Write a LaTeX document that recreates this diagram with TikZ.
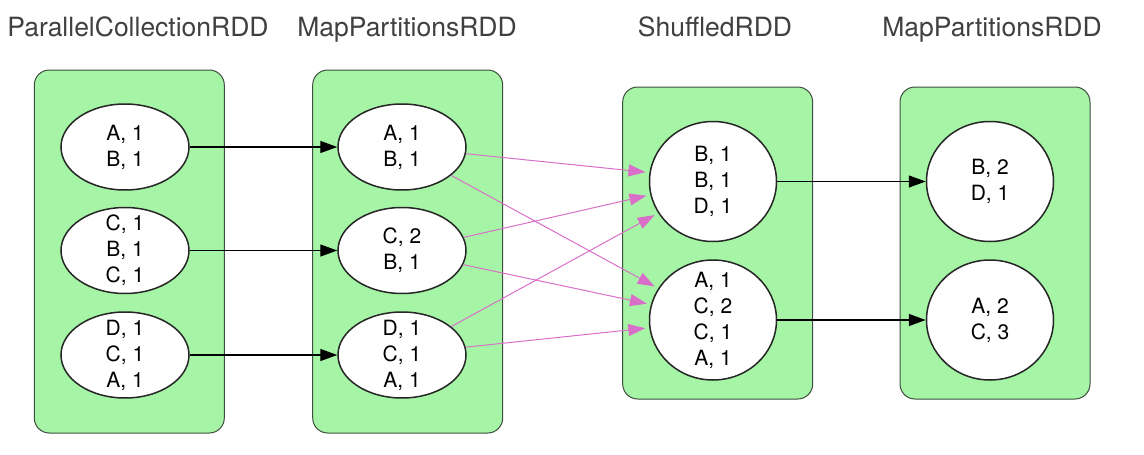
\documentclass[tikz,border=0pt]{standalone}
\usepackage{fontspec}
\setmainfont{TeX Gyre Heros}
\usetikzlibrary{shapes.geometric,arrows.meta,positioning}
\definecolor{rddgreen}{HTML}{A6F5A6}
\definecolor{rddedge}{HTML}{3E4E3E}
\definecolor{shufflepink}{HTML}{D96FC8}
\definecolor{titlegray}{HTML}{404040}

\begin{document}
\begin{tikzpicture}[
    x=1pt, y=-1pt,
    >={Triangle[length=17pt,width=12pt]},
    rdd/.style={
        rectangle, draw=rddedge, fill=rddgreen, line width=1pt,
        rounded corners=15pt, minimum width=190pt, inner sep=0pt
    },
    part/.style={
        ellipse, draw=black!85, fill=white, line width=1.5pt,
        minimum width=128pt, minimum height=86pt, inner sep=0pt,
        label={[parttext]center:#1}
    },
    bucket/.style={part={#1}, minimum width=127pt, minimum height=120pt},
    parttext/.style={align=center, font=\fontsize{21}{26}\selectfont, text=black},
    title/.style={anchor=base, font=\fontsize{26.5}{30}\selectfont, text=titlegray},
    arrow/.style={->, line width=1.3pt},
    shuffle/.style={->, draw=shufflepink, line width=1pt, shorten >=4pt},
]
  \useasboundingbox (0,0) rectangle (1144,455);

  %––– RDD boxes ––––––––––––––––––––––––––––––––––––––––––––
  \node (srcbox)  [rdd, minimum height=363pt] at (129.3,251.5) {};
  \node (mapbox)  [rdd, minimum height=363pt, right=87.4pt of srcbox] {};
  \node (shufbox) [rdd, minimum height=312pt] at (717.7,243) {};
  \node (outbox)  [rdd, minimum height=312pt, right=86.3pt of shufbox] {};

  \node (srctitle)  [title] at (138,36) {ParallelCollectionRDD};
  \node (maptitle)  [title] at (407,36) {MapPartitionsRDD};
  \node (shuftitle) [title] at (715,36) {ShuffledRDD};
  \node (outtitle)  [title] at (992,36) {MapPartitionsRDD};

  %––– Partitions –––––––––––––––––––––––––––––––––––––––––––
  \node (src1) [part={A, 1\\B, 1}] at (125,147) {};
  \node (src2) [part={C, 1\\B, 1\\C, 1}] at (125,250.5) {};
  \node (src3) [part={D, 1\\C, 1\\A, 1}] at (125,355) {};

  \node (map1) [part={A, 1\\B, 1}] at (402,147) {};
  \node (map2) [part={C, 2\\B, 1}] at (402,250.5) {};
  \node (map3) [part={D, 1\\C, 1\\A, 1}] at (402,355) {};

  \node (shuf1) [bucket={B, 1\\B, 1\\D, 1}] at (713,181.5) {};
  \node (shuf2) [bucket={A, 1\\C, 2\\C, 1\\A, 1}] at (713,320) {};

  \node (out1) [bucket={B, 2\\D, 1}] at (990,181.5) {};
  \node (out2) [bucket={A, 2\\C, 3}] at (990,320) {};

  %––– Arrows –––––––––––––––––––––––––––––––––––––––––––––––
  \draw[arrow] (src1) -- (map1);
  \draw[arrow] (src2) -- (map2);
  \draw[arrow] (src3) -- (map3);

  \draw[shuffle] (map1.-6)  -- (shuf1.172);
  \draw[shuffle] (map1.-30) -- (shuf2.150);
  \draw[shuffle] (map2.12)  -- (shuf1.-168);
  \draw[shuffle] (map2.-13) -- (shuf2.166);
  \draw[shuffle] (map3.30)  -- (shuf1.-150);
  \draw[shuffle] (map3.7)   -- (shuf2.-173);

  \draw[arrow] (shuf1) -- (out1);
  \draw[arrow] (shuf2) -- (out2);
\end{tikzpicture}
\end{document}
